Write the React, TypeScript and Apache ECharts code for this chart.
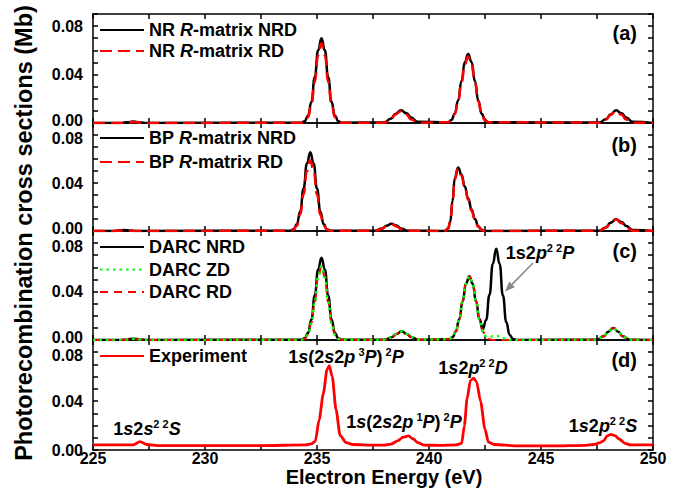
import React, { useEffect, useRef } from "react";
import * as echarts from "echarts";

// ---------- Data ----------
// Panel (a): NR R-matrix
const energyA = [225, 226.2, 226.5, 226.8, 227.1, 227.4, 234.3, 234.45, 234.6, 234.75, 234.9, 235.05, 235.2, 235.35, 235.5, 235.65, 235.8, 235.95, 236.1, 238.0, 238.3, 238.5, 238.75, 239.0, 239.2, 239.5, 240.85, 241.0, 241.15, 241.3, 241.45, 241.6, 241.75, 241.9, 242.05, 242.2, 242.35, 242.5, 242.65, 247.6, 247.9, 248.1, 248.35, 248.6, 248.8, 249.1, 250];
const nrNRD = [0, 0, 0.0006, 0.0012, 0.0006, 0, 0.0003, 0.0015, 0.006, 0.0174, 0.0377, 0.06, 0.07, 0.06, 0.0377, 0.0174, 0.006, 0.0015, 0.0003, 0.0005, 0.0035, 0.0075, 0.0105, 0.008, 0.0045, 0.001, 0.0006, 0.0025, 0.0077, 0.0185, 0.0346, 0.0503, 0.057, 0.0503, 0.0346, 0.0185, 0.0077, 0.0025, 0.0006, 0.0004, 0.003, 0.007, 0.0105, 0.008, 0.0045, 0.001, 0];
const nrRD = [0, 0, 0.0004, 0.0008, 0.0004, 0, 0.0002, 0.0011, 0.0048, 0.015, 0.034, 0.056, 0.066, 0.056, 0.034, 0.015, 0.0048, 0.0011, 0.0002, 0.0003, 0.0032, 0.007, 0.0098, 0.0068, 0.0028, 0.0003, 0.0006, 0.0024, 0.0074, 0.0179, 0.0334, 0.0485, 0.055, 0.0485, 0.0334, 0.0179, 0.0074, 0.0024, 0.0006, 0.0003, 0.0028, 0.0066, 0.0098, 0.0068, 0.0028, 0.0003, 0];

// Panel (b): BP R-matrix
const energyB = [225, 225.9, 226.15, 226.4, 226.65, 226.9, 233.8, 233.95, 234.1, 234.25, 234.4, 234.55, 234.7, 234.85, 235.0, 235.15, 235.3, 235.45, 235.6, 237.6, 237.9, 238.1, 238.33, 238.55, 238.75, 239.05, 240.7, 240.85, 240.95, 241.05, 241.15, 241.3, 241.45, 241.6, 241.75, 241.9, 242.05, 242.2, 242.35, 242.5, 247.6, 247.9, 248.1, 248.35, 248.6, 248.8, 249.1, 250];
const bpNRD = [0, 0, 0.0004, 0.0008, 0.0004, 0, 0.0003, 0.0014, 0.0056, 0.0163, 0.0354, 0.0562, 0.0656, 0.0562, 0.0354, 0.0163, 0.0056, 0.0014, 0.0003, 0.0003, 0.002, 0.0043, 0.006, 0.0045, 0.002, 0.0003, 0, 0.002, 0.008, 0.025, 0.044, 0.053, 0.047, 0.037, 0.027, 0.018, 0.01, 0.004, 0.001, 0, 0.0003, 0.003, 0.0068, 0.0098, 0.0075, 0.0042, 0.0008, 0];
const bpRD = [0, 0, 0.0003, 0.0005, 0.0003, 0, 0.0002, 0.001, 0.0043, 0.0135, 0.0305, 0.05, 0.059, 0.05, 0.0305, 0.0135, 0.0043, 0.001, 0.0002, 0.0002, 0.0018, 0.004, 0.0056, 0.0038, 0.0015, 0.0002, 0, 0.0018, 0.0075, 0.024, 0.043, 0.052, 0.046, 0.036, 0.026, 0.017, 0.0095, 0.0035, 0.0008, 0, 0.0003, 0.0028, 0.0065, 0.0095, 0.0065, 0.0026, 0.0003, 0];

// Panel (c): DARC
const energyC = [225, 226.2, 226.5, 226.8, 227.1, 227.4, 234.3, 234.45, 234.6, 234.75, 234.9, 235.05, 235.2, 235.35, 235.5, 235.65, 235.8, 235.95, 236.1, 238.05, 238.35, 238.55, 238.78, 239.0, 239.2, 239.5, 240.9, 241.05, 241.2, 241.35, 241.5, 241.65, 241.8, 241.95, 242.1, 242.25, 242.4, 242.55, 242.7, 242.85, 243.0, 243.15, 243.3, 243.45, 243.6, 243.75, 243.9, 247.5, 247.8, 248.0, 248.23, 248.45, 248.65, 248.95, 250];
const darcNRD = [0, 0, 0.0005, 0.001, 0.0005, 0, 0.0003, 0.0014, 0.0058, 0.0169, 0.0367, 0.0583, 0.068, 0.0583, 0.0367, 0.0169, 0.0058, 0.0014, 0.0003, 0.0003, 0.0024, 0.005, 0.0072, 0.005, 0.0024, 0.0003, 0.0006, 0.0023, 0.0071, 0.0171, 0.0319, 0.0464, 0.0526, 0.0464, 0.032, 0.0175, 0.009, 0.0165, 0.0373, 0.063, 0.0754, 0.063, 0.0367, 0.0149, 0.0042, 0.0008, 0.0001, 0.0003, 0.003, 0.0068, 0.0099, 0.0068, 0.003, 0.0003, 0];
const darcZD = [0, 0, 0.0004, 0.0008, 0.0004, 0, 0.0002, 0.001, 0.0045, 0.014, 0.0315, 0.0518, 0.061, 0.0518, 0.0315, 0.014, 0.0045, 0.001, 0.0002, 0.0003, 0.0024, 0.005, 0.007, 0.005, 0.0024, 0.0003, 0.0006, 0.0023, 0.0071, 0.0171, 0.0319, 0.0464, 0.0526, 0.0464, 0.0319, 0.0171, 0.0071, 0.003, 0.0025, 0.0032, 0.0035, 0.003, 0.0015, 0.0004, 0, 0, 0, 0.0003, 0.003, 0.0068, 0.0099, 0.0068, 0.003, 0.0003, 0];
const darcRD = [0, 0, 0.0004, 0.0008, 0.0004, 0, 0.0002, 0.001, 0.0045, 0.014, 0.0315, 0.0518, 0.061, 0.0518, 0.0315, 0.014, 0.0045, 0.001, 0.0002, 0.0003, 0.0024, 0.005, 0.007, 0.005, 0.0024, 0.0003, 0.0006, 0.0023, 0.0071, 0.0171, 0.0319, 0.0464, 0.0526, 0.0464, 0.0319, 0.0171, 0.0071, 0.0023, 0.0006, 0, 0, 0, 0, 0, 0, 0, 0, 0.0003, 0.003, 0.0068, 0.0099, 0.0068, 0.003, 0.0003, 0];

// Panel (d): Experiment
const energyD = [225, 226.8, 227.1, 227.4, 228.0, 229.5, 231.0, 232.5, 234.5, 234.75, 234.92, 235.1, 235.28, 235.45, 235.55, 235.68, 235.85, 236.03, 236.3, 236.6, 237.5, 238.0, 238.3, 238.6, 238.85, 239.08, 239.3, 239.5, 239.8, 240.5, 241.2, 241.46, 241.58, 241.7, 241.85, 242.0, 242.12, 242.3, 242.5, 242.65, 242.9, 244.0, 245.5, 247.0, 247.35, 247.6, 247.8, 247.95, 248.12, 248.3, 248.5, 248.75, 249.0, 250];
const experiment = [0.0042, 0.0042, 0.0068, 0.0045, 0.0036, 0.0035, 0.0035, 0.0036, 0.0042, 0.005, 0.007, 0.025, 0.046, 0.066, 0.069, 0.06, 0.033, 0.012, 0.006, 0.0045, 0.004, 0.004, 0.0048, 0.0075, 0.0105, 0.0115, 0.009, 0.006, 0.004, 0.0038, 0.0042, 0.0055, 0.02, 0.042, 0.057, 0.0587, 0.056, 0.04, 0.017, 0.0065, 0.0045, 0.0034, 0.0033, 0.0038, 0.0045, 0.0058, 0.0075, 0.0115, 0.0128, 0.0118, 0.0088, 0.0055, 0.0042, 0.0042];

const xTicks = [225, 230, 235, 240, 245, 250];
const yTickLabels = [0, 0.04, 0.08];
const panelLabels = ["(a)", "(b)", "(c)", "(d)"];

const FONT = '"Liberation Sans", Arial, Helvetica, sans-serif';

function pairs(e: number[], v: number[]) {
  return e.map((x, i) => [x, v[i] ?? 0]);
}

const GRIDS = [
  { top: 14, height: 109 },
  { top: 123, height: 108 },
  { top: 231, height: 109 },
  { top: 340, height: 110 },
];

export default function App() {
  const ref = useRef<HTMLDivElement>(null);
  useEffect(() => {
    if (!ref.current) return;
    const chart = echarts.init(ref.current, null, { renderer: "svg" });

    const axisLine = { show: true, onZero: false, lineStyle: { color: "#000", width: 1.5 } };
    const tick = { show: true, inside: true, length: 5, lineStyle: { color: "#000", width: 1.5 } };
    const labelStyle = { fontSize: 16, fontWeight: "bold", color: "#000", fontFamily: FONT };
    const yRich = {
      hi: { fontSize: 16, fontWeight: "bold", color: "#000", fontFamily: FONT, lineHeight: 10, padding: [7, 0, 0, 0] },
      lo: { fontSize: 16, fontWeight: "bold", color: "#000", fontFamily: FONT, lineHeight: 10, padding: [0, 0, 5, 0] },
      md: { fontSize: 16, fontWeight: "bold", color: "#000", fontFamily: FONT, lineHeight: 10 },
    };

    const xAxes: any[] = [];
    const yAxes: any[] = [];
    GRIDS.forEach((_, i) => {
      xAxes.push({
        gridIndex: i, type: "value", min: 225, max: 250, interval: 2.5, position: "bottom",
        axisLine, axisTick: tick, splitLine: { show: false },
        axisLabel: {
          show: i === 3, margin: 2, ...labelStyle, fontSize: 16, lineHeight: 12,
          formatter: (v: number) => (xTicks.includes(v) ? String(v) : ""),
        },
      });
      xAxes.push({
        gridIndex: i, type: "value", min: 225, max: 250, interval: 2.5, position: "top",
        axisLine, axisTick: tick, splitLine: { show: false }, axisLabel: { show: false },
      });
      yAxes.push({
        gridIndex: i, type: "value", min: 0, max: 0.09, interval: 0.01, position: "left",
        axisLine, axisTick: tick, splitLine: { show: false },
        axisLabel: {
          margin: 10, ...labelStyle, lineHeight: 10, rich: yRich,
          formatter: (v: number) => {
            const hit = yTickLabels.find((t) => Math.abs(t - v) < 1e-6);
            if (hit === undefined) return "";
            const s = hit.toFixed(2);
            if (hit === 0.08 && i > 0) return `{hi|${s}}`;
            if (hit === 0 && i < 3) return `{lo|${s}}`;
            return `{md|${s}}`;
          },
        },
      });
      yAxes.push({
        gridIndex: i, type: "value", min: 0, max: 0.09, interval: 0.01, position: "right",
        axisLine, axisTick: tick, splitLine: { show: false }, axisLabel: { show: false },
      });
    });

    const line = (name: string, panel: number, data: number[][], color: string, width: number, type: any, z: number) => ({
      name, type: "line", xAxisIndex: panel * 2, yAxisIndex: panel * 2, data,
      symbol: "none", smooth: 0.5, smoothMonotone: "x", z,
      lineStyle: { color, width, type },
      itemStyle: { color },
    });

    const series = [
      line("NR R-matrix NRD", 0, pairs(energyA, nrNRD), "#000", 2.5, "solid", 2),
      line("NR R-matrix RD", 0, pairs(energyA, nrRD), "#ff0000", 2.5, [12, 6], 3),
      line("BP R-matrix NRD", 1, pairs(energyB, bpNRD), "#000", 2.5, "solid", 2),
      line("BP R-matrix RD", 1, pairs(energyB, bpRD), "#ff0000", 2.5, [12, 6], 3),
      line("DARC NRD", 2, pairs(energyC, darcNRD), "#000", 2.5, "solid", 2),
      line("DARC RD", 2, pairs(energyC, darcRD), "#ff0000", 2, [8, 6], 3),
      line("DARC ZD", 2, pairs(energyC, darcZD), "#00ff00", 2.5, [2.5, 4], 4),
      { ...line("Experiment", 3, pairs(energyD, experiment), "#ff0000", 2.8, "solid", 2), smooth: 0.25 },
    ];

    const richBase = {
      i: { fontStyle: "italic", fontWeight: "bold", fontSize: 18, fontFamily: FONT, color: "#000" },
    };
    const legendText = {
      fontSize: 18, fontWeight: "bold", fontFamily: FONT, color: "#000", lineHeight: 20, rich: richBase,
    };
    const legendFmt = (n: string) => n.replace(" R-matrix", " {i|R}-matrix");
    const mkLegend = (data: string[], top: number, gap: number) => ({
      data, left: 99, top, orient: "vertical", itemWidth: 44, itemHeight: 2, itemGap: gap,
      padding: 0, selectedMode: false, textStyle: legendText, formatter: legendFmt,
      itemStyle: { opacity: 0 },
    });

    const rich = {
      n: { fontSize: 18, fontWeight: "bold", fontFamily: FONT, fill: "#000", lineHeight: 22 },
      i: { fontSize: 18, fontWeight: "bold", fontStyle: "italic", fontFamily: FONT, fill: "#000", lineHeight: 22 },
      s: { fontSize: 11, fontWeight: "bold", fontFamily: FONT, fill: "#000", lineHeight: 11, verticalAlign: "top" },
    };
    const ann = (x: number, y: number, text: string) => ({
      type: "text", x, y, z: 50,
      style: { text, rich, align: "center", verticalAlign: "middle", textAlign: "center", textVerticalAlign: "middle" },
    });
    const plain = (x: number, y: number, text: string, size: number, align = "center", rotation = 0, lh?: number) => ({
      type: "text", x, y, rotation, z: 50,
      style: {
        text, fontSize: size, fontWeight: "bold", fontFamily: FONT, fill: "#000", lineHeight: lh ?? size,
        align, verticalAlign: "middle", textAlign: align, textVerticalAlign: "middle",
      },
    });

    const graphic = [
      plain(24, 233, "Photorecombination cross sections (Mb)", 23.5, "center", Math.PI / 2),
      plain(384, 477, "Electron Energy (eV)", 20, "center", 0, 14),
      plain(637, 33, panelLabels[0], 20, "right"),
      plain(637, 145, panelLabels[1], 20, "right"),
      plain(637, 251, panelLabels[2], 20, "right"),
      plain(637, 360, panelLabels[3], 20, "right"),
      ann(147, 429, "{n|1}{i|s}{n|2}{i|s}{s|2 2}{i|S}"),
      ann(346, 357, "{n|1}{i|s}{n|(2}{i|s}{n|2}{i|p}{s| 3}{i|P}{n|)}{s| 2}{i|P}"),
      ann(473, 368, "{n|1}{i|s}{n|2}{i|p}{s|2 2}{i|D}"),
      ann(404, 422, "{n|1}{i|s}{n|(2}{i|s}{n|2}{i|p}{s| 1}{i|P}{n|)}{s| 2}{i|P}"),
      ann(603, 426, "{n|1}{i|s}{n|2}{i|p}{s|2 2}{i|S}"),
      ann(540, 253, "{n|1s2}{i|p}{s|2 2}{i|P}"),
      { type: "line", z: 50, shape: { x1: 533, y1: 263, x2: 512, y2: 284.4 }, style: { stroke: "#888", lineWidth: 1.5 } },
      { type: "polygon", z: 50, shape: { points: [[505, 291.5], [514.8, 287.2], [509.2, 281.6]] }, style: { fill: "#888" } },
    ];

    chart.setOption({
      animation: false,
      backgroundColor: "#fff",
      grid: GRIDS.map((g) => ({ left: 93, width: 560, top: g.top, height: g.height })),
      xAxis: xAxes,
      yAxis: yAxes,
      legend: [
        mkLegend(["NR R-matrix NRD", "NR R-matrix RD"], 20, 1),
        mkLegend(["BP R-matrix NRD", "BP R-matrix RD"], 128, 4),
        mkLegend(["DARC NRD", "DARC ZD", "DARC RD"], 237, 2.5),
        mkLegend(["Experiment"], 346, 2),
      ],
      series,
      graphic,
    });
    return () => chart.dispose();
  }, []);

  return <div ref={ref} style={{ position: "fixed", left: 0, top: 0, width: 693, height: 492, background: "#fff" }} />;
}
